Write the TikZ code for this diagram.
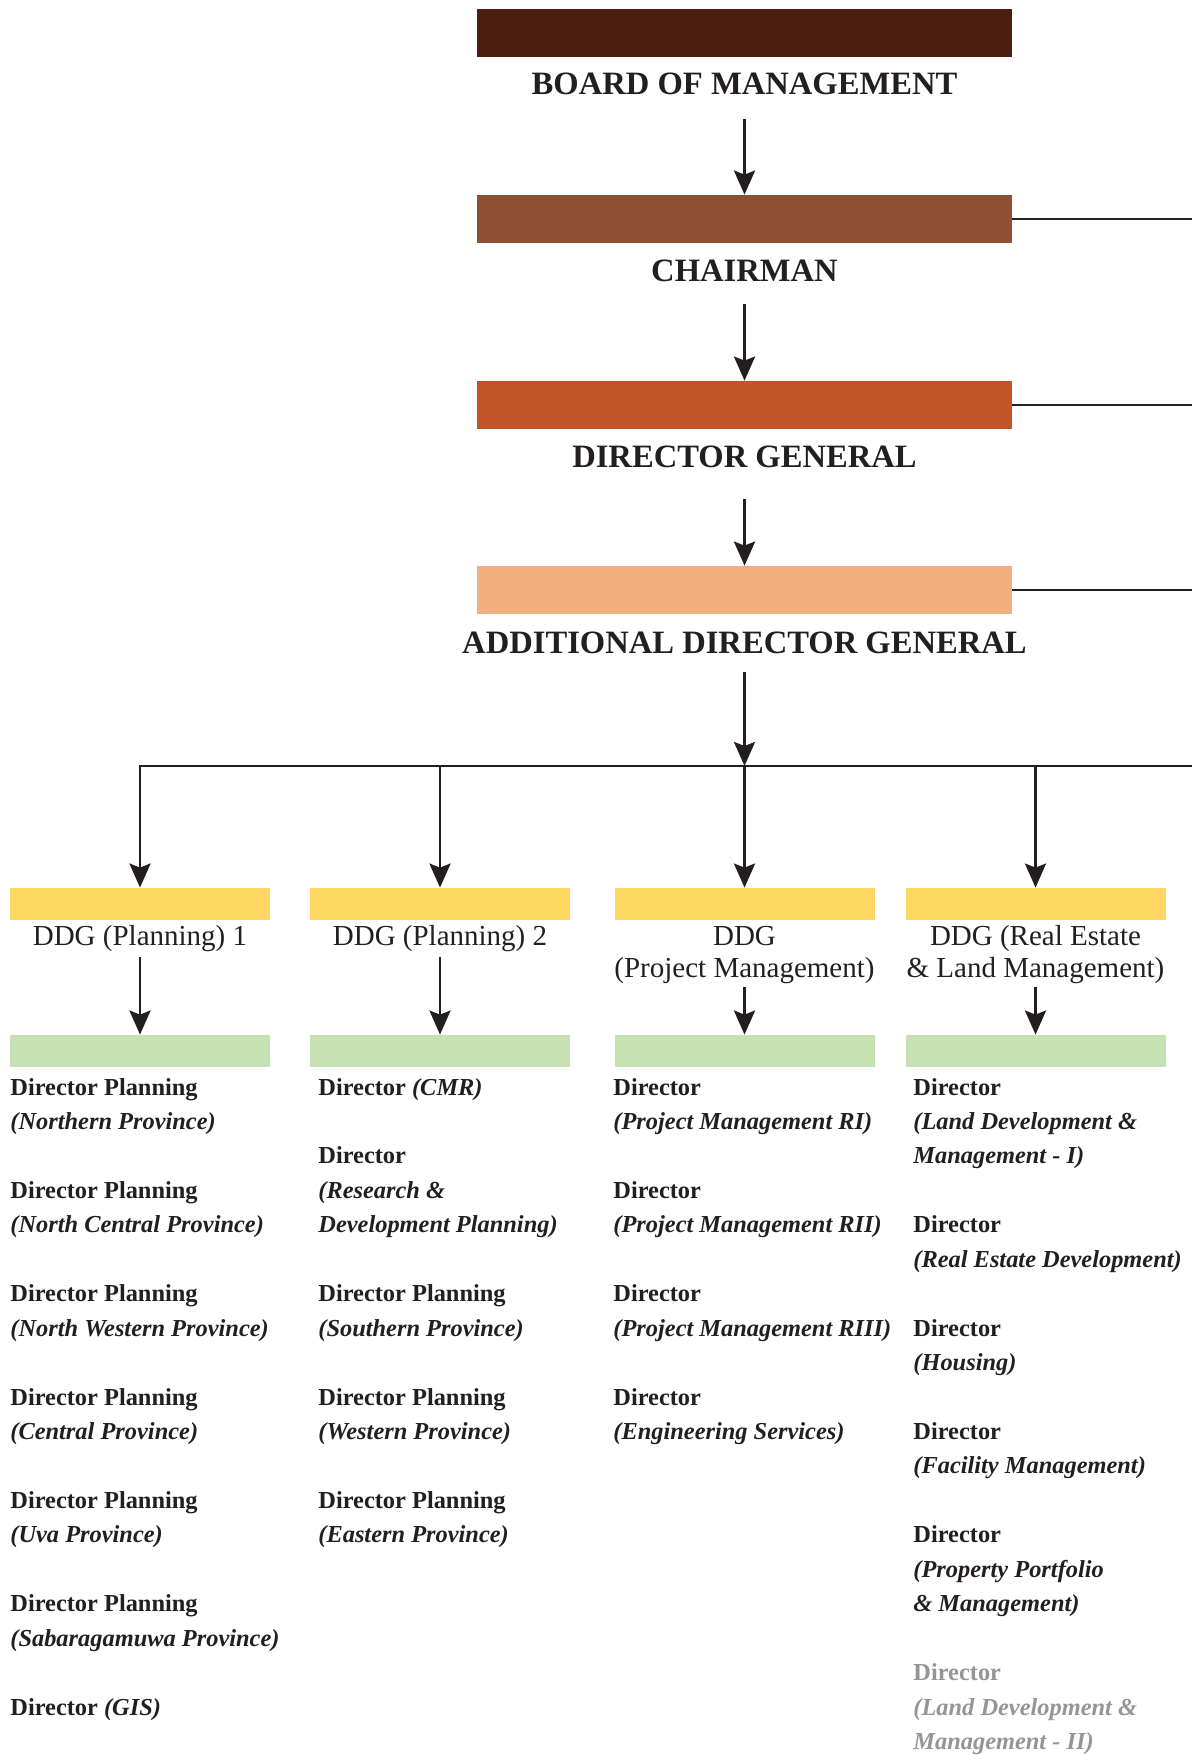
\documentclass[tikz,border=0pt]{standalone}
\usepackage{fontspec}
\setmainfont{Liberation Serif}
\usetikzlibrary{arrows.meta}

\definecolor{ink}{HTML}{231F20}
\definecolor{cBoard}{HTML}{4D1D10}
\definecolor{cChair}{HTML}{8F4F35}
\definecolor{cDG}{HTML}{C25526}
\definecolor{cADG}{HTML}{F2AF7F}
\definecolor{cDDG}{HTML}{FED862}
\definecolor{cDir}{HTML}{C6E2B2}
\definecolor{cGrey}{HTML}{939598}

\tikzset{
  bar/.style={draw=none, minimum width=267.5pt, minimum height=24pt, inner sep=0pt},
  ddgbar/.style={draw=none, fill=cDDG, minimum width=130pt, minimum height=16pt, inner sep=0pt},
  dirbar/.style={draw=none, fill=cDir, minimum width=130pt, minimum height=16pt, inner sep=0pt},
  head/.style={font=\fontsize{16.3pt}{19pt}\selectfont\bfseries, anchor=base, inner sep=0pt, text=ink},
  ddg/.style={font=\fontsize{14.5pt}{17pt}\selectfont, anchor=base, inner sep=0pt, text=ink},
  lead/.style={font=\fontsize{12.2pt}{14pt}\selectfont\bfseries, anchor=base west, inner sep=0pt, text=ink},
  sub/.style={font=\fontsize{12.2pt}{14pt}\selectfont\bfseries\itshape, anchor=base west, inner sep=0pt, text=ink},
  wire/.style={draw=ink, line width=1.45pt},
  arr/.style={wire, -{Stealth[length=12pt, width=10.5pt, inset=2pt]}},
}

\begin{document}
\begin{tikzpicture}[x=0.5pt, y=-0.5pt]
  \fill[white] (0,0) rectangle (1192,1755);
  \useasboundingbox (0,0) rectangle (1192,1755);
  \coordinate (edge) at (1192,0);

  % top of the hierarchy
  \node[bar, fill=cBoard] (board) at (744.5,33) {};
  \node[head] (boardt) at (744.5,95) {BOARD OF MANAGEMENT};
  \node[bar, fill=cChair] (chair) at (744.5,219) {};
  \node[head] (chairt) at (744.5,281) {CHAIRMAN};
  \node[bar, fill=cDG] (dg) at (744.5,405) {};
  \node[head] (dgt) at (744.5,467) {DIRECTOR GENERAL};
  \node[bar, fill=cADG] (adg) at (744.5,590) {};
  \node[head] (adgt) at (744.5,653) {ADDITIONAL DIRECTOR GENERAL};

  \draw[arr] ([yshift=-12pt]boardt.base) -- (chair.north);
  \draw[arr] ([yshift=-11.5pt]chairt.base) -- (dg.north);
  \draw[arr] ([yshift=-16pt]dgt.base) -- (adg.north);

  % lines running off to the right
  \draw[wire] (chair.east) -- (chair.east -| edge);
  \draw[wire] (dg.east) -- (dg.east -| edge);
  \draw[wire] (adg.east) -- (adg.east -| edge);

  % deputy director general level
  \node[ddgbar] (y1) at (140,904) {};
  \node[ddgbar] (y2) at (440,904) {};
  \node[ddgbar] (y3) at (744.5,904) {};
  \node[ddgbar] (y4) at (1035.5,904) {};

  \coordinate (hub) at (744.5,766);
  \draw[arr] ([yshift=-9.5pt]adgt.base) -- (hub);
  \draw[arr] (hub -| edge) -| (y1.north);
  \draw[arr] (y2.north |- hub) -- (y2.north);
  \draw[arr] (hub) -- (y3.north);
  \draw[arr] (y4.north |- hub) -- (y4.north);

  \node[ddg] (d1) at (140,945) {DDG (Planning) 1};
  \node[ddg] (d2) at (440,945) {DDG (Planning) 2};
  \node[ddg] (d3a) at (744.5,945) {DDG};
  \node[ddg] (d3b) at (744.5,977) {(Project Management)};
  \node[ddg] (d4a) at (1035.5,945) {DDG (Real Estate};
  \node[ddg] (d4b) at (1035.5,977) {\& Land Management)};

  % director level
  \node[dirbar] (g1) at (140,1051) {};
  \node[dirbar] (g2) at (440,1051) {};
  \node[dirbar] (g3) at (744.5,1051) {};
  \node[dirbar] (g4) at (1035.5,1051) {};

  \draw[arr] ([yshift=-6pt]d1.base) -- (g1.north);
  \draw[arr] ([yshift=-6pt]d2.base) -- (g2.north);
  \draw[arr] ([yshift=-5pt]d3b.base) -- (g3.north);
  \draw[arr] ([yshift=-5pt]d4b.base) -- (g4.north);

  % column 1: provincial planning
  \node[lead] (p1a) at (10,{1095+34.45*0}) {Director Planning};
  \node[sub]  (p1b) at (10,{1095+34.45*1}) {(Northern Province)};
  \node[lead] (p2a) at (10,{1095+34.45*3}) {Director Planning};
  \node[sub]  (p2b) at (10,{1095+34.45*4}) {(North Central Province)};
  \node[lead] (p3a) at (10,{1095+34.45*6}) {Director Planning};
  \node[sub]  (p3b) at (10,{1095+34.45*7}) {(North Western Province)};
  \node[lead] (p4a) at (10,{1095+34.45*9}) {Director Planning};
  \node[sub]  (p4b) at (10,{1095+34.45*10}) {(Central Province)};
  \node[lead] (p5a) at (10,{1095+34.45*12}) {Director Planning};
  \node[sub]  (p5b) at (10,{1095+34.45*13}) {(Uva Province)};
  \node[lead] (p6a) at (10,{1095+34.45*15}) {Director Planning};
  \node[sub]  (p6b) at (10,{1095+34.45*16}) {(Sabaragamuwa Province)};
  \node[lead] (p7a) at (10,{1095+34.45*18}) {Director \textit{(GIS)}};

  % column 2
  \node[lead] (q1a) at (318,{1095+34.45*0}) {Director \textit{(CMR)}};
  \node[lead] (q2a) at (318,{1095+34.45*2}) {Director};
  \node[sub]  (q2b) at (318,{1095+34.45*3}) {(Research \&};
  \node[sub]  (q2c) at (318,{1095+34.45*4}) {Development Planning)};
  \node[lead] (q3a) at (318,{1095+34.45*6}) {Director Planning};
  \node[sub]  (q3b) at (318,{1095+34.45*7}) {(Southern Province)};
  \node[lead] (q4a) at (318,{1095+34.45*9}) {Director Planning};
  \node[sub]  (q4b) at (318,{1095+34.45*10}) {(Western Province)};
  \node[lead] (q5a) at (318,{1095+34.45*12}) {Director Planning};
  \node[sub]  (q5b) at (318,{1095+34.45*13}) {(Eastern Province)};

  % column 3: project management
  \node[lead] (r1a) at (613,{1095+34.45*0}) {Director};
  \node[sub]  (r1b) at (613,{1095+34.45*1}) {(Project Management RI)};
  \node[lead] (r2a) at (613,{1095+34.45*3}) {Director};
  \node[sub]  (r2b) at (613,{1095+34.45*4}) {(Project Management RII)};
  \node[lead] (r3a) at (613,{1095+34.45*6}) {Director};
  \node[sub]  (r3b) at (613,{1095+34.45*7}) {(Project Management RIII)};
  \node[lead] (r4a) at (613,{1095+34.45*9}) {Director};
  \node[sub]  (r4b) at (613,{1095+34.45*10}) {(Engineering Services)};

  % column 4: real estate and land management
  \node[lead] (s1a) at (913,{1095+34.45*0}) {Director};
  \node[sub]  (s1b) at (913,{1095+34.45*1}) {(Land Development \&};
  \node[sub]  (s1c) at (913,{1095+34.45*2}) {Management - I)};
  \node[lead] (s2a) at (913,{1095+34.45*4}) {Director};
  \node[sub]  (s2b) at (913,{1095+34.45*5}) {(Real Estate Development)};
  \node[lead] (s3a) at (913,{1095+34.45*7}) {Director};
  \node[sub]  (s3b) at (913,{1095+34.45*8}) {(Housing)};
  \node[lead] (s4a) at (913,{1095+34.45*10}) {Director};
  \node[sub]  (s4b) at (913,{1095+34.45*11}) {(Facility Management)};
  \node[lead] (s5a) at (913,{1095+34.45*13}) {Director};
  \node[sub]  (s5b) at (913,{1095+34.45*14}) {(Property Portfolio};
  \node[sub]  (s5c) at (913,{1095+34.45*15}) {\& Management)};
  \node[lead, text=cGrey] (s6a) at (913,{1095+34.45*17}) {Director};
  \node[sub, text=cGrey]  (s6b) at (913,{1095+34.45*18}) {(Land Development \&};
  \node[sub, text=cGrey]  (s6c) at (913,{1095+34.45*19}) {Management - II)};
\end{tikzpicture}
\end{document}
